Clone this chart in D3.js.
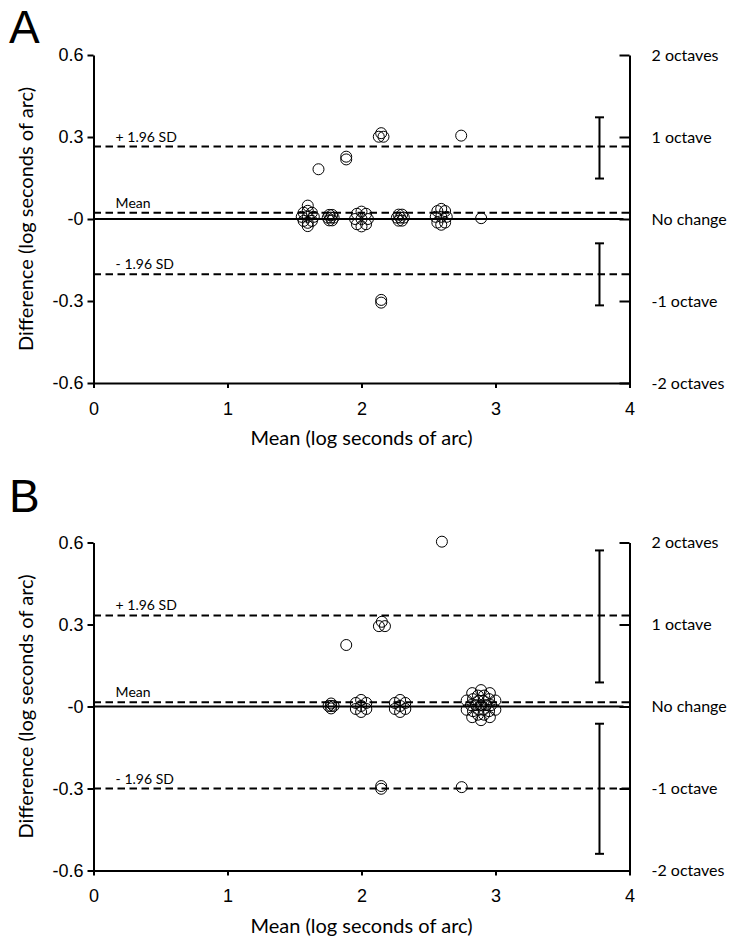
<!DOCTYPE html>
<html>
<head>
<meta charset="utf-8">
<script src="https://cdn.jsdelivr.net/npm/d3@7"></script>
<style>
  body { margin: 0; background: #fff; }
  svg { display: block; }
</style>
</head>
<body>
<script>
// ---------- shared axis data ----------
const xTicks = [0, 1, 2, 3, 4];
const yTicks = [0.6, 0.3, 0, -0.3, -0.6];
const yTickLabels = ["0.6", "0.3", "-0", "-0.3", "-0.6"];
const octaveTicks = [0.6, 0.3, 0, -0.3, -0.6];
const octaveLabels = ["2 octaves", "1 octave", "No change", "-1 octave", "-2 octaves"];
const limitLabels = ["+ 1.96 SD", "Mean", "- 1.96 SD"];
const xTitle = "Mean (log seconds of arc)";
const yTitle = "Difference (log seconds of arc)";
const ciXValue = 3.776;

// ---------- Panel A ----------
const meanA = [
  1.679, 1.886, 1.886, 2.129, 2.164, 2.147, 2.744, 2.147, 2.147, 2.893,
  1.644, 1.630, 1.599, 1.568, 1.554, 1.568, 1.599, 1.630, 1.599, 1.599, 1.599,
  1.770, 1.792, 1.748, 1.781, 1.759, 1.781, 1.759,
  2.048, 2.034, 2.000, 1.966, 1.952, 1.966, 2.000, 2.034, 2.000,
  2.316, 2.303, 2.277, 2.264, 2.277, 2.303, 2.290,
  2.636, 2.624, 2.595, 2.566, 2.554, 2.566, 2.595, 2.624, 2.595
];
const diffA = [
  0.182, 0.228, 0.218, 0.301, 0.301, 0.314, 0.305, -0.296, -0.306, 0.003,
  0.008, 0.023, 0.030, 0.023, 0.008, -0.007, -0.014, -0.007, 0.008, 0.049, -0.026,
  0.005, 0.005, 0.005, 0.015, 0.015, -0.005, -0.005,
  0.000, 0.019, 0.027, 0.019, 0.000, -0.019, -0.027, -0.019, 0.000,
  0.005, 0.016, 0.016, 0.005, -0.006, -0.006, 0.005,
  0.008, 0.029, 0.037, 0.029, 0.008, -0.013, -0.021, -0.013, 0.008
];
const limitsA = [0.265, 0.023, -0.202];
const ciLowA = [0.148, -0.316];
const ciHighA = [0.372, -0.089];

// ---------- Panel B ----------
const meanB = [
  2.600, 1.886, 2.130, 2.175, 2.152, 2.147, 2.147, 2.748,
  1.773, 1.792, 1.754, 1.773, 1.773,
  1.997, 1.958, 1.958, 1.997, 2.036, 2.036, 1.997,
  2.288, 2.249, 2.249, 2.288, 2.327, 2.327, 2.288,
  2.892,
  2.929, 2.911, 2.873, 2.855, 2.873, 2.911,
  2.967, 2.952, 2.915, 2.869, 2.832, 2.817, 2.832, 2.869, 2.915, 2.952,
  2.999, 2.958, 2.892, 2.826, 2.785, 2.785, 2.826, 2.892, 2.958, 2.999
];
const diffB = [
  0.603, 0.225, 0.294, 0.294, 0.310, -0.291, -0.301, -0.295,
  0.002, 0.002, 0.002, 0.011, -0.007,
  0.024, 0.013, -0.009, -0.020, -0.009, 0.013, 0.002,
  0.024, 0.013, -0.009, -0.020, -0.009, 0.013, 0.002,
  0.005,
  0.005, 0.021, 0.021, 0.005, -0.011, -0.011,
  0.005, 0.027, 0.040, 0.040, 0.027, 0.005, -0.017, -0.030, -0.030, -0.017,
  0.022, 0.049, 0.060, 0.049, 0.022, -0.012, -0.039, -0.050, -0.039, -0.012
];
const limitsB = [0.333, 0.016, -0.300];
const ciLowB = [0.088, -0.539];
const ciHighB = [0.571, -0.063];

// ---------- drawing ----------
const W = 734, H = 943;
const svg = d3.select("body").append("svg").attr("width", W).attr("height", H)
  .style("background", "#fff");

const tickFont = "'Liberation Sans', Arial, sans-serif";
const textFont = "Lato, 'Open Sans', sans-serif";

function drawPanel(cfg) {
  const x = d3.scaleLinear().domain([0, 4]).range([93.5, 629.5]);
  const y = d3.scaleLinear().domain([-0.6, 0.6]).range([cfg.bottom, cfg.top]);
  const g = svg.append("g");

  // panel letter
  g.append("text").attr("x", 9).attr("y", cfg.letterY)
    .style("font-family", tickFont).style("font-size", "46px")
    .text(cfg.letter);

  // left axis
  const yAxis = d3.axisLeft(y).tickValues(yTicks)
    .tickFormat((d, i) => yTickLabels[i]).tickSize(6).tickSizeOuter(0).tickPadding(4);
  const ya = g.append("g").attr("transform", `translate(${x(0)},0)`).call(yAxis);
  ya.select(".domain").attr("stroke", "#000").attr("stroke-width", 2);
  ya.selectAll(".tick line").attr("stroke", "#000").attr("stroke-width", 2);
  ya.selectAll(".tick text").style("font-family", tickFont).style("font-size", "18px").attr("fill", "#000");

  // bottom axis
  const xAxis = d3.axisBottom(x).tickValues(xTicks).tickFormat(d3.format("d"))
    .tickSize(5).tickSizeOuter(0).tickPadding(14);
  const xa = g.append("g").attr("transform", `translate(0,${y(-0.6)})`).call(xAxis);
  xa.select(".domain").attr("stroke", "#000").attr("stroke-width", 2);
  xa.selectAll(".tick line").attr("stroke", "#000").attr("stroke-width", 2);
  xa.selectAll(".tick text").style("font-family", tickFont).style("font-size", "18px").attr("fill", "#000");

  // right (octave) axis
  const rAxis = d3.axisLeft(y).tickValues(octaveTicks).tickFormat("").tickSize(10).tickSizeOuter(0);
  const ra = g.append("g").attr("transform", `translate(${x(4)},0)`).call(rAxis);
  ra.select(".domain").attr("stroke", "#000").attr("stroke-width", 2);
  ra.selectAll(".tick line").attr("stroke", "#000").attr("stroke-width", 2);
  g.selectAll(".octlab").data(octaveTicks).join("text")
    .attr("x", x(4) + 22).attr("y", d => y(d)).attr("dy", "0.35em")
    .style("font-family", textFont).style("font-size", "16px")
    .text((d, i) => octaveLabels[i]);

  // zero line (solid)
  g.append("line").attr("x1", x(0)).attr("x2", x(3.955))
    .attr("y1", y(0)).attr("y2", y(0)).attr("stroke", "#000").attr("stroke-width", 2);

  // limit lines (dashed)
  g.selectAll(".lim").data(cfg.limits).join("line")
    .attr("x1", x(0)).attr("x2", x(4)).attr("y1", d => y(d)).attr("y2", d => y(d))
    .attr("stroke", "#000").attr("stroke-width", 2).attr("stroke-dasharray", "7.5,4.5");
  g.selectAll(".limlab").data(cfg.limits).join("text")
    .attr("x", x(0.165)).attr("y", d => y(d) - 5)
    .style("font-family", textFont).style("font-size", "14px")
    .text((d, i) => limitLabels[i]);

  // confidence-interval bars
  cfg.ciLow.forEach((lo, i) => {
    const hi = cfg.ciHigh[i];
    const cx = x(ciXValue);
    g.append("line").attr("x1", cx).attr("x2", cx).attr("y1", y(lo)).attr("y2", y(hi))
      .attr("stroke", "#000").attr("stroke-width", 2);
    [lo, hi].forEach(v => g.append("line").attr("x1", cx - 4.5).attr("x2", cx + 4.5)
      .attr("y1", y(v)).attr("y2", y(v)).attr("stroke", "#000").attr("stroke-width", 2));
  });

  // points
  g.selectAll(".pt").data(cfg.means).join("circle")
    .attr("cx", d => x(d)).attr("cy", (d, i) => y(cfg.diffs[i])).attr("r", 5.5)
    .attr("fill", "none").attr("stroke", "#000").attr("stroke-width", 1);

  // axis titles
  g.append("text").attr("x", (x(0) + x(4)) / 2).attr("y", cfg.bottom + 62)
    .attr("text-anchor", "middle").style("font-family", textFont).style("font-size", "20px")
    .text(xTitle);
  g.append("text").attr("transform", `translate(33,${y(0)}) rotate(-90)`)
    .attr("text-anchor", "middle").style("font-family", textFont).style("font-size", "20px")
    .text(yTitle);
}

drawPanel({ letter: "A", letterY: 43, top: 55, bottom: 383,
  means: meanA, diffs: diffA, limits: limitsA, ciLow: ciLowA, ciHigh: ciHighA });
drawPanel({ letter: "B", letterY: 512, top: 542.5, bottom: 870.5,
  means: meanB, diffs: diffB, limits: limitsB, ciLow: ciLowB, ciHigh: ciHighB });
</script>
</body>
</html>
